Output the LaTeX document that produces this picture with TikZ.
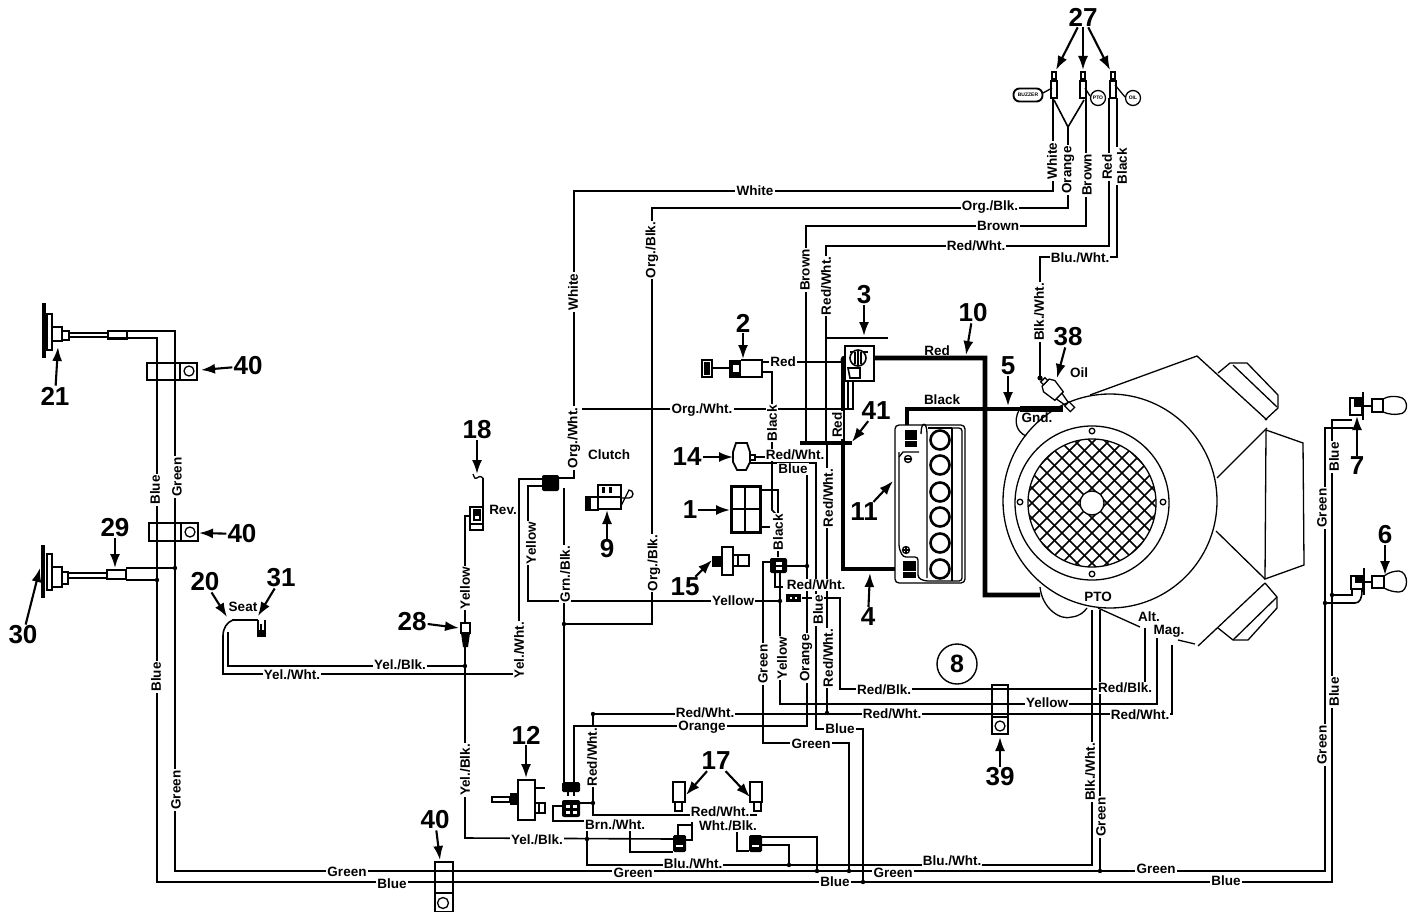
\documentclass[tikz,border=0pt]{standalone}
\usepackage{fontspec}
\setmainfont{Liberation Sans}
\usetikzlibrary{arrows.meta}
\tikzset{
  wire/.style={line width=1.6pt,line join=miter},
  hv/.style={line width=4.8pt,line join=miter},
  part/.style={line width=1.3pt},
  lab/.style={font=\bfseries\fontsize{13.5}{13.5}\selectfont,fill=white,inner sep=1.2pt},
  vlab/.style={lab,rotate=90},
  num/.style={font=\bfseries\fontsize{26}{26}\selectfont,inner sep=1pt},
  callout/.style={line width=2.1pt,-{Latex[length=14pt,width=10pt]}},
  small/.style={font=\bfseries\fontsize{5}{5}\selectfont,inner sep=0pt},
}
\newcommand{\jn}[2]{\fill (#1,#2) circle (2.2);}
\newcommand{\lb}[4]{\node[lab] (#1) at (#2,#3) {#4};}
\newcommand{\vl}[4]{\node[vlab] (#1) at (#2,#3) {#4};}
\newcommand{\co}[6]{\node[num] (n#1) at (#2,#3) {#4}; \coordinate (t#1) at (#5,#6); \draw[callout] (n#1) -- (t#1);}
\begin{document}
\begin{tikzpicture}[x=1pt,y=-1pt]
\useasboundingbox (0,0) rectangle (1415,912);
\fill[white] (0,0) rectangle (1415,912);

% ---------- engine ----------
\begin{scope}[part]
\draw (1110,501) circle (107);
\draw (1092,503) circle (77);
\draw (1092,503) circle (64);
\begin{scope}
\clip (1092,503) circle (64);
\foreach \d in {-150,-135,...,150} {
  \draw[line width=1.7pt] (1092+\d-100,403) -- (1092+\d+100,603);
  \draw[line width=1.7pt] (1092+\d+100,403) -- (1092+\d-100,603);
}
\end{scope}
\filldraw[fill=white] (1092,503) circle (12);
\foreach \a/\b in {1092/431,1020/502,1163/502,1092/574} \draw[fill=white] (\a,\b) circle (2.8);
\draw (1090,395) -- (1197,356) -- (1267,420);
\draw (1218,373) -- (1230,363) -- (1247,363) -- (1278,395) -- (1278,408) -- (1265,420);
\draw (1233,365) -- (1277,407);
\draw (1267,428) -- (1217,478);
\draw (1266,430) -- (1303,443) -- (1304,565) -- (1265,579) -- cycle;
\draw (1265,579) -- (1216,531);
\draw (1265,583) -- (1198,646);
\draw (1265,583) -- (1277,597) -- (1277,608) -- (1248,640) -- (1233,640) -- (1218,628);
\draw (1233,640) -- (1277,597);
\draw (1178,640) -- (1195,644);
\draw (1040,587) .. controls (1042,608) and (1060,621) .. (1072,617) .. controls (1080,616) and (1084,612) .. (1087,608);
\draw (1098,608) -- (1140,627);
\draw (1019,410) .. controls (1013,422) and (1017,432) .. (1026,436);
\end{scope}

% ---------- thin wires ----------
\draw[wire] (127,331) -- (175,331) -- (175,871) -- (1325,871) -- (1325,428) -- (1353,428);
\draw[wire] (127,338) -- (157,338) -- (157,882) -- (1332,882) -- (1332,420) -- (1352,420);
\draw[wire] (126,568) -- (175,568);
\draw[wire] (126,580) -- (157,580);
\draw[wire] (1325,603) -- (1355,603) .. controls (1360,603) and (1362,598) .. (1362,590);
\draw[wire] (1332,595) -- (1352,595) -- (1352,589);
\draw[wire] (1053,98) -- (1053,191) -- (574,191) -- (574,478) -- (559,478);
\draw[wire] (574,409) -- (853,409) -- (853,380);
\draw[wire] (1054,100) -- (1068,127) -- (1084,100);
\draw[wire] (1068,127) -- (1068,208) -- (652,208) -- (652,624) -- (564,624);
\draw[wire] (1086,98) -- (1086,226) -- (806,226) -- (806,443);
\draw[wire] (1109,98) -- (1109,246) -- (826,246) -- (826,443);
\draw[wire] (1117,98) -- (1117,257) -- (1040,257) -- (1040,378);
\draw[wire] (827,443) -- (827,713);
\draw[wire] (542,479) -- (519,479) -- (519,674) -- (223,674) -- (223,636) .. controls (223,628) and (227,622) .. (233,620);
\draw[wire] (542,486) -- (528,486) -- (528,601) -- (780,601);
\draw[wire] (564,488) -- (564,782);
\draw[wire] (228,632) -- (228,666) -- (465,666);
\draw[wire] (470,516) -- (465,516) -- (465,623);
\draw[wire] (465,645) -- (465,838) -- (673,839);
\draw[wire] (483,478) -- (483,528);
\draw[wire] (762,362) -- (843,362);
\draw[wire] (762,372) -- (772,372) -- (772,510) -- (778,516) -- (778,557);
\draw[wire] (760,490) -- (778,490) -- (778,516);
\draw[wire] (760,527) -- (770,527);
\draw[wire] (750,457) -- (770,457);
\draw[wire] (750,463) -- (816,463) -- (816,729) -- (863,729) -- (863,882);
\draw[wire] (807,470) -- (807,726) -- (574,726) -- (574,782);
\draw[wire] (787,566) -- (807,566);
\draw[wire] (772,562) -- (763,562) -- (763,743) -- (849,743) -- (849,871);
\draw[wire] (780,573) -- (780,704) -- (1157,704) -- (1157,638);
\draw[wire] (775,573) -- (775,587) -- (783,587);
\draw[wire] (802,598) -- (840,598) -- (840,689) -- (1145,689) -- (1145,628);
\draw[wire] (593,714) -- (1172,714) -- (1172,645);
\draw[wire] (593,714) -- (593,815) -- (757,815);
\draw[wire] (580,803) -- (593,803);
\draw[wire] (562,806) -- (553,806) -- (553,821) -- (630,821) -- (630,852) -- (673,852);
\draw[wire] (587,821) -- (587,865) -- (1092,865) -- (1092,610);
\draw[wire] (1100,610) -- (1100,871);
\draw[wire] (678,835) -- (678,825) -- (693,825);
\draw[wire] (686,840) -- (692,840) -- (692,822);
\draw[wire] (762,837) -- (817,837) -- (817,871);
\draw[wire] (762,845) -- (789,845) -- (789,865);
\draw[wire] (737,826) -- (737,851) -- (749,851);

\jn{175}{568}\jn{157}{580}\jn{465}{666}\jn{564}{624}\jn{780}{601}\jn{807}{566}\jn{827}{713}\jn{593}{714}\jn{593}{803}\jn{789}{865}\jn{817}{871}\jn{849}{871}\jn{863}{882}\jn{1100}{871}\jn{1325}{603}\jn{1332}{595}\jn{587}{839}

% ---------- heavy cables ----------
\draw[hv] (843,362) .. controls (843,358) .. (848,358) -- (985,358) -- (985,595) -- (1040,595);
\draw[hv] (843,358) -- (843,569) -- (905,569);
\draw[hv] (907,430) -- (907,409) -- (1020,409);
\draw[line width=6.5pt] (1020,409) -- (1063,409);
\draw[line width=3.8pt] (800,443) -- (852,443);
\draw[line width=2pt] (827,338) -- (888,338);

% ---------- solenoid 3 ----------
\begin{scope}[part]
\draw[fill=white] (845,346) rectangle (874,381);
\draw (850,352) -- (868,352);
\draw[fill=white,line width=1.6pt] (858,358) circle (8);
\draw (858,350) -- (858,366) (855,352) -- (855,364) (861,352) -- (861,364);
\draw[line width=1.6pt] (848,368) -- (860,368) -- (860,378) -- (850,378) -- cycle;
\draw (848,381) -- (848,409) (853,381) -- (853,409);
\end{scope}

% ---------- battery 11 ----------
\begin{scope}[part]
\draw[rounded corners=4pt,fill=white] (895,425) rectangle (965,583);
\draw[rounded corners=3pt] (899,452) -- (899,548) -- (903,557) -- (918,557) -- (918,578) -- (925,581) -- (962,581) -- (962,428) -- (928,428);
\draw (921,434) .. controls (921,421) and (927,421) .. (927,434) -- (927,578);
\draw (952,428) -- (952,581) (928,428) -- (952,428);
\draw (919,452) -- (903,452) -- (899,457);
\foreach \b in {440,465,492,517,543,569} \draw[line width=2.6pt] (940,\b) circle (9.5);
\draw (908,459) circle (3.5); \draw (905,459) -- (911,459);
\draw (906,550) circle (3.5); \draw (903,550) -- (909,550) (906,547) -- (906,553);
\fill (905,430) rectangle (917,447);
\fill (903,561) rectangle (916,578);
\draw[white,line width=0.8pt] (905,440) -- (917,440) (903,571) -- (916,571);
\end{scope}

% ---------- headlights ----------
\begin{scope}[part]
\draw[line width=3.6pt] (44,303) -- (44,358);
\draw (47,314) rectangle (52,350);
\draw[fill=white] (52,327) rectangle (62,341);
\draw (62,331) rectangle (69,340);
\draw (69,333) -- (108,333) (69,337) -- (108,337);
\draw[fill=white] (108,331) rectangle (127,339);
\fill (108,337) rectangle (127,339);
\draw[line width=3.6pt] (43,545) -- (43,598);
\draw (47,554) rectangle (52,590);
\draw[fill=white] (52,567) rectangle (62,587);
\draw (62,572) rectangle (68,584);
\draw (68,573) -- (107,573) (68,578) -- (107,578);
\draw[fill=white] (107,570) rectangle (126,579);
\end{scope}

% ---------- clamps ----------
\begin{scope}[part]
\draw (147,363) rectangle (197,380); \draw (180,363) -- (180,380); \draw (189,371) circle (5);
\draw (149,523) rectangle (198,541); \draw (181,523) -- (181,541); \draw (190,532) circle (5);
\draw (435,862) rectangle (453,912); \draw (435,893) -- (453,893); \draw (443,903) circle (5.5);
\draw (992,685) rectangle (1008,734); \draw (992,717) -- (1008,717); \draw (1000,726) circle (5);
\end{scope}

% ---------- seat switches ----------
\draw[line width=2.6pt] (232,620) -- (258,620);
\draw[part] (258,620) -- (258,636) -- (265,636) -- (265,620) (261,624) -- (261,632);
\fill (258,630) rectangle (265,637);
% connector 28
\draw[part,fill=white] (461,623) rectangle (470,633);
\fill (461,633) -- (470,633) -- (468,647) -- (463,647) -- cycle;
% switch 18
\draw[part] (473,474) .. controls (475,479) .. (477,478) .. controls (480,476) .. (483,478);
\draw[part] (470,507) rectangle (483,530);
\draw[part] (474,510) rectangle (480,520); \fill (475,511) rectangle (479,516);
\draw[part] (470,524) -- (483,524);
% clutch connector
\fill[rounded corners=2pt] (542,475) rectangle (559,491);
% item 9
\begin{scope}[part]
\draw (598,485) rectangle (621,509); \draw (598,497) -- (621,497);
\fill (602,487) rectangle (605,493); \fill (609,487) rectangle (612,493);
\draw (586,497) rectangle (598,510); \fill (586,497) rectangle (591,510);
\draw (621,498) -- (629,498) arc (90:-90:4) -- (621,506);
\end{scope}
% key switch 2
\begin{scope}[part]
\draw (702,360) rectangle (712,377); \fill (704,362) rectangle (710,375);
\draw[line width=2pt] (712,368) -- (729,368);
\fill (729,360) rectangle (741,378);
\draw (741,360) -- (762,360) -- (762,377) -- (741,377);
\fill[white] (733,365) rectangle (739,372);
\end{scope}
% item 14
\draw[line width=1.8pt,fill=white] (736,443) -- (747,443) -- (750,452) -- (750,462) -- (746,470) -- (737,470) -- (733,462) -- (733,452) -- cycle;
\draw[part,fill=white] (750,455) rectangle (755,460);
% item 1 relay
\draw[line width=3pt] (731,486) rectangle (760,532);
\draw[line width=1.6pt] (745,486) -- (745,532) (731,509) -- (760,509);
% item 15
\begin{scope}[part]
\draw (722,547) rectangle (733,575);
\fill (712,556) rectangle (722,567);
\draw[line width=2.4pt] (733,555) rectangle (749,566);
\draw (738,555) -- (738,566);
\end{scope}
% connector near 15
\fill[rounded corners=2pt] (770,558) rectangle (787,573);
\fill[white] (776,562) rectangle (782,565);
\fill[white] (776,567) rectangle (782,570);
\draw[part,fill=black] (787,595) rectangle (800,601);
\fill[white] (790,597) rectangle (792,599); \fill[white] (795,597) rectangle (797,599);
% item 12
\begin{scope}[part]
\draw[fill=white] (518,780) rectangle (535,820);
\fill (510,793) rectangle (518,805);
\draw[fill=white] (492,797) -- (510,797) -- (510,802) -- (492,802) -- cycle;
\draw[line width=2pt] (535,788) -- (545,788);
\draw (535,803) rectangle (545,813); \draw (539,803) -- (539,813);
\end{scope}
% connectors bottom centre
\fill[rounded corners=1.5pt] (562,782) rectangle (580,792);
\draw[line width=1.5pt] (568,792) -- (568,796) (574,792) -- (574,796);
\fill[rounded corners=2pt] (562,800) rectangle (580,817);
\fill[white] (566,805) rectangle (570,808); \fill[white] (573,805) rectangle (577,808);
\fill[white] (566,811) rectangle (570,814); \fill[white] (573,811) rectangle (577,814);
% items 17
\begin{scope}[part]
\draw[fill=white] (673,782) rectangle (685,802); \draw (675,802) rectangle (682,811);
\draw[fill=white] (750,782) rectangle (762,802); \draw (754,802) rectangle (761,811);
\end{scope}
\fill[rounded corners=1.5pt] (673,835) rectangle (686,852);
\fill[rounded corners=1.5pt] (749,835) rectangle (762,852);
\fill[white] (676,845) rectangle (683,847);
\fill[white] (752,845) rectangle (759,847);

% ---------- sender 38 ----------
\begin{scope}[shift={(1052,389)},rotate=-45]
\draw[part,fill=white] (-9,-5) -- (-4,-8) -- (10,-6) -- (10,6) -- (-4,8) -- (-9,5) -- cycle;
\draw[part,fill=white] (-13,-3) rectangle (-9,3);
\draw[part] (10,-4) -- (21,-2) (10,4) -- (21,2);
\draw[part,fill=white] (21,-3) rectangle (29,3);
\end{scope}
\fill (1040,378) circle (2.6);

% ---------- lamps ----------
\begin{scope}[part]
\draw (1350,398) rectangle (1362,415); \fill (1354,398) rectangle (1362,407);
\draw[line width=2.4pt] (1363,392) -- (1363,420);
\draw[line width=2pt] (1362,406) -- (1372,406);
\draw[fill=white] (1372,399) rectangle (1383,412);
\draw (1383,399) .. controls (1388,396) and (1394,396) .. (1399,397) .. controls (1409,398) and (1409,414) .. (1399,414) .. controls (1394,415) and (1388,414) .. (1383,412);
\draw (1351,576) rectangle (1363,589); \fill (1355,576) rectangle (1363,583);
\draw[line width=2.4pt] (1364,568) -- (1364,595);
\draw[line width=2pt] (1363,582) -- (1372,582);
\draw[fill=white] (1372,576) rectangle (1384,588);
\draw (1384,576) .. controls (1389,572) and (1395,571) .. (1399,571) .. controls (1409,572) and (1409,592) .. (1399,592) .. controls (1395,592) and (1389,591) .. (1384,588);
\end{scope}

% ---------- terminals 27 ----------
\begin{scope}[part]
\foreach \a in {1054,1083,1113} {
  \draw[fill=white] (\a-3,81) rectangle (\a+3,98);
  \fill (\a-3,78) rectangle (\a+3,82);
  \draw (\a-2,78) -- (\a-2,72) -- (\a+2,72) -- (\a+2,78);
}
\draw (1043,93) -- (1052,88);
\draw (1090,96) -- (1085,88);
\draw (1125,97) -- (1115,85);
\end{scope}
\node[draw,line width=1.9pt,rounded corners=6pt,small,minimum width=29pt,minimum height=13pt,fill=white] (oauto) at (1028,95) {BUZZER};
\node[draw,circle,line width=1.3pt,small,minimum size=15pt,fill=white] (opto) at (1098,98) {PTO};
\node[draw,circle,line width=1.3pt,small,minimum size=15pt,fill=white] (ooil) at (1133,98) {OIL};

% ---------- wire labels ----------
\vl{vblue1}{155}{490}{Blue}
\vl{vgreen1}{177}{477}{Green}
\vl{vblue2}{156}{677}{Blue}
\vl{vgreen2}{176}{790}{Green}
\lb{hgreen1}{347}{872}{Green}
\lb{hblue1}{392}{884}{Blue}
\lb{hgreen2}{633}{873}{Green}
\lb{hbw1}{693}{864}{Blu./Wht.}
\lb{hblue2}{835}{882}{Blue}
\lb{hgreen3}{893}{873}{Green}
\lb{hbw2}{952}{861}{Blu./Wht.}
\lb{hgreen4}{1156}{869}{Green}
\lb{hblue3}{1226}{881}{Blue}
\vl{rgreen1}{1322}{508}{Green}
\vl{rblue1}{1334}{457}{Blue}
\vl{rgreen2}{1322}{745}{Green}
\vl{rblue2}{1334}{692}{Blue}
\node[font=\bfseries\fontsize{13.5}{13.5}\selectfont,inner sep=1pt] (seat) at (243,607) {Seat};
\lb{ywh1}{292}{675}{Yel./Wht.}
\lb{ybl1}{400}{665}{Yel./Blk.}
\vl{vyellow1}{465}{588}{Yellow}
\vl{vyb2}{465}{770}{Yel./Blk.}
\lb{ybl2}{537}{840}{Yel./Blk.}
\vl{vyw2}{519}{650}{Yel./Wht.}
\node[lab] (rev) at (503,510) {Rev.};
\vl{vyellow2}{531}{543}{Yellow}
\vl{vgb}{565}{574}{Grn./Blk.}
\vl{vow}{574}{438}{Org./Wht.}
\node[lab] (clutch) at (609,455) {Clutch};
\vl{vwhite}{573}{292}{White}
\lb{hwhite}{755}{191}{White}
\vl{vob1}{652}{250}{Org./Blk.}
\vl{vob2}{654}{563}{Org./Blk.}
\lb{hob}{990}{207}{Org./Blk.}
\lb{hbrown}{998}{226}{Brown}
\vl{vbrown}{805}{270}{Brown}
\lb{hrw1}{976}{246}{Red/Wht.}
\vl{vrw1}{826}{286}{Red/Wht.}
\lb{hblw}{1080}{258}{Blu./Wht.}
\vl{vbkw}{1039}{312}{Blk./Wht.}
\vl{vwhitet}{1052}{161}{White}
\vl{vorange}{1068}{170}{Orange}
\vl{vbrownt}{1087}{175}{Brown}
\vl{vredt}{1107}{167}{Red}
\vl{vblackt}{1122}{166}{Black}
\lb{hred2}{783}{362}{Red}
\vl{vblack1}{772}{423}{Black}
\lb{horgw}{702}{410}{Org./Wht.}
\lb{hrw14}{795}{455}{Red/Wht.}
\lb{hblue14}{793}{469}{Blue}
\vl{vblack2}{778}{532}{Black}
\vl{vrw2}{828}{498}{Red/Wht.}
\lb{hrw3}{816}{585}{Red/Wht.}
\lb{hyel}{733}{601}{Yellow}
\vl{vblue3}{818}{610}{Blue}
\vl{vgreen3}{763}{664}{Green}
\vl{vyellow3}{782}{658}{Yellow}
\vl{vorange2}{806}{658}{Orange}
\vl{vrw3}{828}{658}{Red/Wht.}
\lb{hrb1}{884}{690}{Red/Blk.}
\lb{hrb2}{1125}{688}{Red/Blk.}
\lb{hyel2}{1047}{703}{Yellow}
\lb{hrw4}{892}{714}{Red/Wht.}
\lb{hrw5}{1140}{715}{Red/Wht.}
\lb{hrw6}{705}{713}{Red/Wht.}
\lb{hor}{702}{727}{Orange}
\lb{hblue4}{840}{729}{Blue}
\lb{hgreen5}{811}{744}{Green}
\vl{vrw4}{592}{757}{Red/Wht.}
\lb{hrw7}{720}{812}{Red/Wht.}
\lb{hbrw}{615}{825}{Brn./Wht.}
\lb{hwb}{728}{826}{Wht./Blk.}
\vl{vbkw2}{1090}{772}{Blk./Wht.}
\vl{vgreen4}{1101}{817}{Green}
\node[lab,fill=none] (red10) at (937,351) {Red};
\node[lab,fill=none] (black5) at (942,400) {Black};
\vl{vred2}{837}{425}{Red}
\node[lab,fill=none] (gnd) at (1037,418) {Gnd.};
\node[lab,fill=none] (oil) at (1079,373) {Oil};
\node[lab,fill=none] (pto) at (1098,597) {PTO};
\node[lab,fill=none] (alt) at (1149,617) {Alt.};
\lb{mag}{1169}{631}{Mag.}

% ---------- item numbers and their arrows ----------
\co{21}{55}{396}{21}{58}{347}
\node[num] (n40a) at (248,366) {40}; \coordinate (t40a) at (201,370); \draw[callout] (n40a) -- (t40a);
\node[num] (n40b) at (242,534) {40}; \coordinate (t40b) at (199,533); \draw[callout] (n40b) -- (t40b);
\node[num] (n40c) at (435,820) {40}; \coordinate (t40c) at (440,860); \draw[callout] (n40c) -- (t40c);
\co{29}{115}{528}{29}{115}{568}
\co{30}{23}{635}{30}{40}{568}
\co{20}{205}{582}{20}{227}{617}
\co{31}{281}{578}{31}{258}{616}
\co{28}{412}{622}{28}{459}{628}
\co{18}{477}{430}{18}{477}{474}
\co{9}{607}{549}{9}{607}{510}
\co{2}{743}{323}{2}{743}{359}
\co{3}{864}{295}{3}{864}{336}
\co{10}{973}{313}{10}{966}{355}
\co{5}{1008}{366}{5}{1008}{406}
\co{38}{1068}{337}{38}{1057}{378}
\co{41}{876}{411}{41}{852}{442}
\co{14}{687}{457}{14}{733}{457}
\co{1}{690}{510}{1}{730}{510}
\co{15}{685}{587}{15}{712}{560}
\co{11}{864}{512}{11}{893}{481}
\co{4}{868}{617}{4}{870}{573}
\co{39}{1000}{777}{39}{1000}{737}
\co{12}{526}{735}{12}{526}{778}
\node[num] (n17) at (716,761) {17}; \coordinate (t17a) at (686,795); \coordinate (t17b) at (750,797);
\draw[callout] (n17) -- (t17a); \draw[callout] (n17) -- (t17b);
\node[num] (n27) at (1083,17) {27}; \coordinate (t27a) at (1056,70); \coordinate (t27b) at (1083,70); \coordinate (t27c) at (1110,70);
\draw[callout] (n27) -- (t27a); \draw[callout] (n27) -- (t27b); \draw[callout] (n27) -- (t27c);
\co{7}{1357}{466}{7}{1357}{416}
\co{6}{1385}{535}{6}{1385}{575}
\node[draw,circle,line width=1.4pt,minimum size=40pt,inner sep=0pt,font=\bfseries\fontsize{25}{25}\selectfont] (n8) at (957,664) {8};
\end{tikzpicture}
\end{document}
